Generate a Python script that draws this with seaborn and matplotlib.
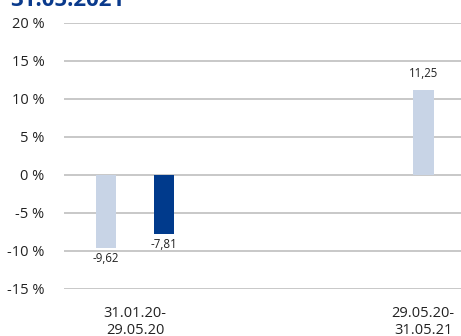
import numpy as np
import pandas as pd
import seaborn as sns
import matplotlib.pyplot as plt

periods = ["31.01.20-\n29.05.20", "29.05.20-\n31.05.21"]
series = ["Fonds", "Vergleichsindex"]
fonds = [-9.62, 11.25]
index_vals = [-7.81, np.nan]
y_ticks = [-15, -10, -5, 0, 5, 10, 15, 20]
title_text = "31.05.2021"

light = "#C8D4E6"
dark = "#003A8C"

df = pd.DataFrame({
    "Zeitraum": periods * 2,
    "Reihe": [series[0]] * 2 + [series[1]] * 2,
    "Wert": fonds + index_vals,
})

sns.set_theme(style="white")
plt.rcParams["font.family"] = ["Open Sans", "DejaVu Sans"]

fig = plt.figure(figsize=(4.61, 3.36), dpi=100)
ax = fig.add_axes([64 / 461, 47 / 336, 1 - 64 / 461, 266 / 336])

sns.barplot(data=df, x="Zeitraum", y="Wert", hue="Reihe", order=periods,
            hue_order=series, palette=[light, dark], saturation=1,
            width=0.366, gap=0.64, linewidth=0, edgecolor="none",
            legend=False, ax=ax, zorder=3)

ax.set_ylim(-15, 20)
ax.set_xlim(-0.224, 1.028)
ax.set_yticks(y_ticks)
ax.set_yticklabels([f"{t} %" for t in y_ticks])
ax.yaxis.grid(True, color="#BFBFBF", linewidth=1.2, zorder=0)
ax.xaxis.grid(False)
for s in ax.spines.values():
    s.set_visible(False)
ax.set_xlabel("")
ax.set_ylabel("")
ax.tick_params(axis="y", length=0, pad=14, labelsize=10.5, labelcolor="#222222")
ax.tick_params(axis="x", length=0, pad=12, labelsize=10.5, labelcolor="#222222")

# value labels and tick positions under the visible bars of each period
centers = {i: [] for i in range(len(periods))}
for p in ax.patches:
    h = p.get_height()
    if not np.isfinite(h):
        continue
    cx = p.get_x() + p.get_width() / 2
    centers[int(round(cx))].append(cx)
    txt = f"{h:.2f}".replace(".", ",")
    if h >= 0:
        ax.annotate(txt, (cx, h), xytext=(0, 6.5), textcoords="offset points",
                    ha="center", va="bottom", fontsize=8.3, color="#222222")
    else:
        ax.annotate(txt, (cx, h), xytext=(0, -2.5), textcoords="offset points",
                    ha="center", va="top", fontsize=8.3, color="#222222")

ax.set_xticks([np.mean(centers[i]) for i in range(len(periods))])
ax.set_xticklabels(periods)

fig.text(10 / 461, 1 - 6 / 336, title_text, ha="left", va="baseline",
         fontsize=16, fontweight="bold", color="#0A3A8C")

fig.savefig("out.png", dpi=100)
